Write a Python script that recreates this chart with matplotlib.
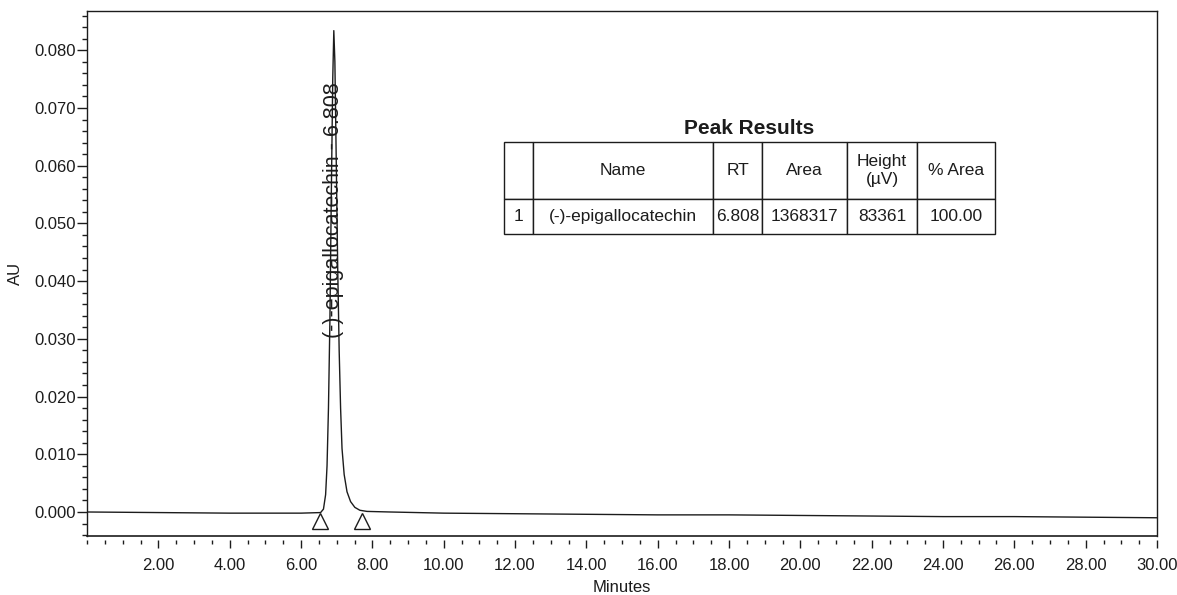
import matplotlib
matplotlib.use("Agg")
import matplotlib.pyplot as plt
from matplotlib.ticker import MultipleLocator, FixedLocator

plt.rcParams['font.family'] = ['Liberation Sans', 'DejaVu Sans']

INK = '#1c1c1c'

# chromatogram trace (minutes, AU)
trace_t = [0.0, 2.0, 4.0, 6.0, 6.55, 6.63, 6.69, 6.73, 6.77, 6.81, 6.85, 6.89,
           6.92, 6.95, 6.99, 7.03, 7.07, 7.11, 7.15, 7.21, 7.29, 7.39, 7.51,
           7.65, 7.85, 8.5, 10.0, 12.0, 14.0, 16.0, 18.0, 20.0, 22.0, 24.0,
           26.0, 28.0, 30.0]
trace_au = [0.0000, -0.0001, -0.0002, -0.0002, -0.0001, 0.0005, 0.0030, 0.0080,
            0.0180, 0.0330, 0.0550, 0.0750, 0.0834, 0.0780, 0.0600, 0.0420,
            0.0280, 0.0180, 0.0110, 0.0065, 0.0035, 0.0018, 0.0008, 0.0003,
            0.0001, 0.0000, -0.0002, -0.0003, -0.0004, -0.0005, -0.0005,
            -0.0006, -0.0007, -0.0008, -0.0008, -0.0009, -0.0010]

# integration start / end markers
marker_t = [6.53, 7.70]
marker_au = [-0.0015, -0.0015]

peak_label = "(-)-epigallocatechin - 6.808"
peak_label_t = 6.92
peak_label_au = 0.0302

# peak results table
col_labels = ["", "Name", "RT", "Area", "Height\n(\u00b5V)", "% Area"]
row_values = ["1", "(-)-epigallocatechin", "6.808", "1368317", "83361", "100.00"]
col_widths = [29, 180, 49, 85, 70, 78]

x_major = [2, 4, 6, 8, 10, 12, 14, 16, 18, 20, 22, 24, 26, 28, 30]

fig = plt.figure(figsize=(11.77, 5.95), dpi=100)
ax = fig.add_axes([87 / 1177, 1 - 536 / 595, 1070 / 1177, 525 / 595])

ax.plot(trace_t, trace_au, color=INK, lw=1.0)
ax.plot(marker_t, marker_au, ls='none', marker='^', ms=12,
        mfc='none', mec=INK, mew=1.0)

ax.text(peak_label_t, peak_label_au, peak_label, rotation=90, fontsize=15.5,
        ha='left', va='center', rotation_mode='anchor', color=INK)

ax.set_xlim(0, 30)
ax.set_ylim(-0.00416, 0.0868)

# axes frame: bottom ticks sit a little below the frame line
ax.spines['bottom'].set_visible(False)
ax.spines['bottom'].set_position(('outward', 3))
ax.plot([0, 1], [0, 0], transform=ax.transAxes, color=INK, lw=1.2, clip_on=False)
for s in ['top', 'right', 'left']:
    ax.spines[s].set_color(INK)
    ax.spines[s].set_linewidth(1.0)

ax.xaxis.set_major_locator(FixedLocator(x_major))
ax.xaxis.set_minor_locator(MultipleLocator(0.5))
ax.set_xticklabels([f"{v:.2f}" for v in x_major])
ax.yaxis.set_major_locator(MultipleLocator(0.01))
ax.yaxis.set_minor_locator(MultipleLocator(0.002))
ax.yaxis.set_major_formatter(plt.FuncFormatter(lambda v, p: f"{v:.3f}"))

ax.tick_params(axis='x', which='major', length=6, width=1, pad=7,
               labelsize=12, colors=INK)
ax.tick_params(axis='x', which='minor', length=3, width=1, colors=INK)
ax.tick_params(axis='y', which='major', length=7, width=1, pad=1,
               labelsize=12, colors=INK)
ax.tick_params(axis='y', which='minor', length=3.5, width=1, colors=INK)

ax.set_xlabel("Minutes", fontsize=12, color=INK, labelpad=5)
ax.set_ylabel("AU", fontsize=12, color=INK, labelpad=8)

# table
tw = sum(col_widths)
tab = ax.table(cellText=[row_values], colLabels=col_labels,
               colWidths=[w / tw for w in col_widths], cellLoc='center',
               bbox=[(504 - 87) / 1070, (536 - 234) / 525, tw / 1070, 92 / 525])
tab.auto_set_font_size(False)
tab.set_fontsize(12.5)
for (r, c), cell in tab.get_celld().items():
    cell.set_height(57 if r == 0 else 35)
    cell.set_linewidth(1.0)
    cell.set_edgecolor(INK)
    cell.get_text().set_color(INK)
    cell.PAD = 0.02

ax.text((749 - 87) / 1070, (536 - 128) / 525, "Peak Results", transform=ax.transAxes,
        ha='center', va='center', fontsize=15, fontweight='bold', color=INK)

fig.savefig("out.png", dpi=100)
